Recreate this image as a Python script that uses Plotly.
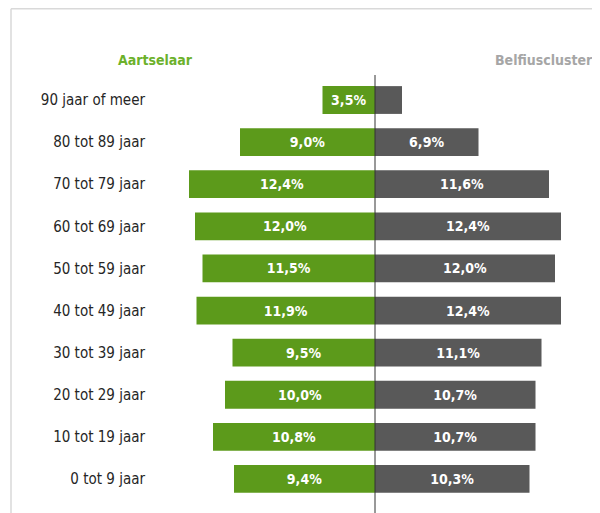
import plotly.graph_objects as go

age_groups = [
    "90 jaar of meer", "80 tot 89 jaar", "70 tot 79 jaar", "60 tot 69 jaar",
    "50 tot 59 jaar", "40 tot 49 jaar", "30 tot 39 jaar", "20 tot 29 jaar",
    "10 tot 19 jaar", "0 tot 9 jaar",
]
aartselaar = [3.5, 9.0, 12.4, 12.0, 11.5, 11.9, 9.5, 10.0, 10.8, 9.4]
belfiuscluster = [1.8, 6.9, 11.6, 12.4, 12.0, 12.4, 11.1, 10.7, 10.7, 10.3]

GREEN = "#5c9a1b"
GREY = "#595959"
FONT = "DejaVu Sans Condensed, Liberation Sans Narrow, sans-serif"


def pct(v):
    return f"{v:.1f}".replace(".", ",") + "%"


fig = go.Figure()
for values, sign, color in [(aartselaar, -1, GREEN), (belfiuscluster, 1, GREY)]:
    fig.add_trace(go.Bar(
        y=age_groups, x=[sign * v for v in values], orientation="h",
        marker={"color": color, "line": {"width": 0}}, width=0.66,
        text=[pct(v) for v in values], textposition="inside",
        insidetextanchor="middle", textangle=0,
        textfont={"color": "white", "size": 14, "family": FONT, "weight": "bold"},
        hoverinfo="skip",
    ))

# the page puts the figure 8px in from the top-left corner, so the figure is 592x505
fig.update_layout(
    width=592, height=505,
    margin={"l": 152, "r": 10, "t": 67, "b": 0},
    paper_bgcolor="white", plot_bgcolor="white",
    barmode="overlay", showlegend=False,
    uniformtext={"minsize": 14, "mode": "hide"},
    xaxis={"range": [-14.333, 14.333], "visible": False, "fixedrange": True},
    yaxis={
        "type": "category", "range": [9.808, -0.594],
        "showgrid": False, "zeroline": False, "showline": False,
        "ticks": "", "ticklabelstandoff": 14,
        "tickfont": {"family": FONT, "size": 15, "color": "#262626"},
    },
    shapes=[
        {"type": "line", "xref": "x", "yref": "paper", "x0": 0, "x1": 0,
         "y0": 0, "y1": 1, "line": {"color": "#333333", "width": 1}},
        {"type": "line", "xref": "paper", "yref": "paper", "x0": -0.3465, "x1": -0.3465,
         "y0": -0.1, "y1": 1.1513, "line": {"color": "#d9d9d9", "width": 1.5}},
        {"type": "line", "xref": "paper", "yref": "paper", "x0": -0.3465, "x1": 1.1,
         "y0": 1.1513, "y1": 1.1513, "line": {"color": "#d9d9d9", "width": 1.5}},
    ],
    annotations=[
        {"text": "Aartselaar", "xref": "paper", "yref": "paper", "x": -0.0116, "y": 1.034,
         "showarrow": False, "xanchor": "center", "yanchor": "middle",
         "font": {"family": FONT, "size": 14, "color": "#6cb12b", "weight": "bold"}},
        {"text": "Belfiuscluster", "xref": "paper", "yref": "paper", "x": 0.893, "y": 1.034,
         "showarrow": False, "xanchor": "center", "yanchor": "middle",
         "font": {"family": FONT, "size": 14, "color": "#a6a6a6", "weight": "bold"}},
    ],
)

fig.write_html("out.html")
